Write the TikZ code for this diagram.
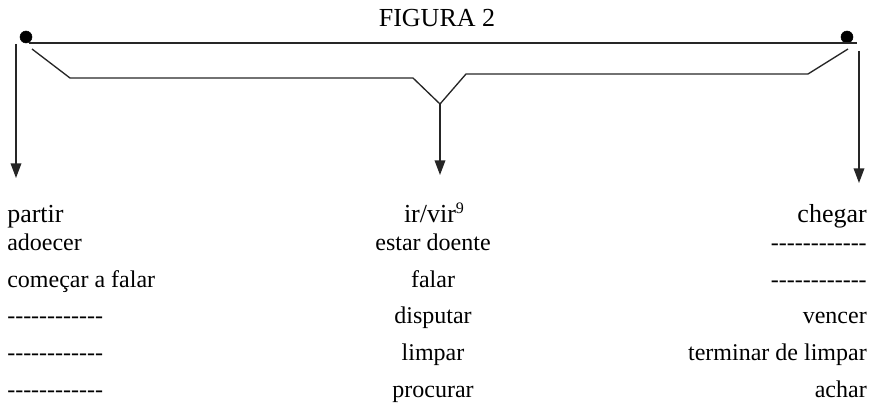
\documentclass[tikz,border=0pt]{standalone}
\usepackage{fontspec}
\setmainfont{Liberation Serif}
\usepackage{tikz}
\usetikzlibrary{arrows.meta}

\newcommand{\blanks}{-{}-{}-{}-{}-{}-{}-{}-{}-{}-{}-{}-}

\tikzset{
    brace/.style={line width=1pt, black!85},
    down/.style={brace, -{Triangle[length=11pt,width=8pt]}},
    head/.style={inner sep=0pt, font=\fontsize{19.5}{20}\selectfont},
    item/.style={inner sep=0pt, font=\fontsize{18}{20}\selectfont}
}

\begin{document}
\begin{tikzpicture}[x=0.75pt, y=-0.75pt]
    %%Background
    \draw[draw=none] (0,0) rectangle (875,403);
    %%
    \node[head, anchor=base] (title) at (437,26.7) {FIGURA 2};

    \coordinate (l) at (29,43);
    \coordinate (r) at (857,43);
    \filldraw[black] (26,37) circle (4.5pt);
    \filldraw[black] (847,37) circle (4.5pt);
    \draw[brace] (l) -- (r);

    \coordinate (a) at (32,49);
    \coordinate (b) at (70,78);
    \coordinate (c) at (413,78);
    \coordinate (v) at (440,104);
    \coordinate (d) at (466,74);
    \coordinate (e) at (808,74);
    \coordinate (f) at (848,49);
    \draw[brace] (a) -- (b) -- (c) -- (v) -- (d) -- (e) -- (f);

    \coordinate (ltop) at (16,44);
    \coordinate (lend) at (16,178);
    \coordinate (vend) at (440,175);
    \coordinate (rtop) at (859,51);
    \coordinate (rend) at (859,183);
    \draw[down] (ltop) -- (lend);
    \draw[down] (v) -- (vend);
    \draw[down] (rtop) -- (rend);

    %%left column
    \node[head, anchor=base west] (partir) at (7,222.7) {partir};
    \node[item, anchor=base west] (l1) at (7,250) {adoecer};
    \node[item, anchor=base west] (l2) at (7,287) {começar a falar};
    \node[item, anchor=base west] (l3) at (7,323.5) {\blanks};
    \node[item, anchor=base west] (l4) at (7,360.5) {\blanks};
    \node[item, anchor=base west] (l5) at (7,397) {\blanks};

    %%middle column
    \node[head, anchor=base] (irvir) at (434,222.7) {ir/vir{\fontsize{12}{12}\selectfont\raisebox{0.55em}{9}}};
    \node[item, anchor=base] (m1) at (433,250) {estar doente};
    \node[item, anchor=base] (m2) at (433,287) {falar};
    \node[item, anchor=base] (m3) at (433,323.5) {disputar};
    \node[item, anchor=base] (m4) at (433,360.5) {limpar};
    \node[item, anchor=base] (m5) at (433,397) {procurar};

    %%right column
    \node[head, anchor=base east] (chegar) at (867,222.7) {chegar};
    \node[item, anchor=base east] (r1) at (867,250) {\blanks};
    \node[item, anchor=base east] (r2) at (867,287) {\blanks};
    \node[item, anchor=base east] (r3) at (867,323.5) {vencer};
    \node[item, anchor=base east] (r4) at (867,360.5) {terminar de limpar};
    \node[item, anchor=base east] (r5) at (867,397) {achar};
\end{tikzpicture}
\end{document}
